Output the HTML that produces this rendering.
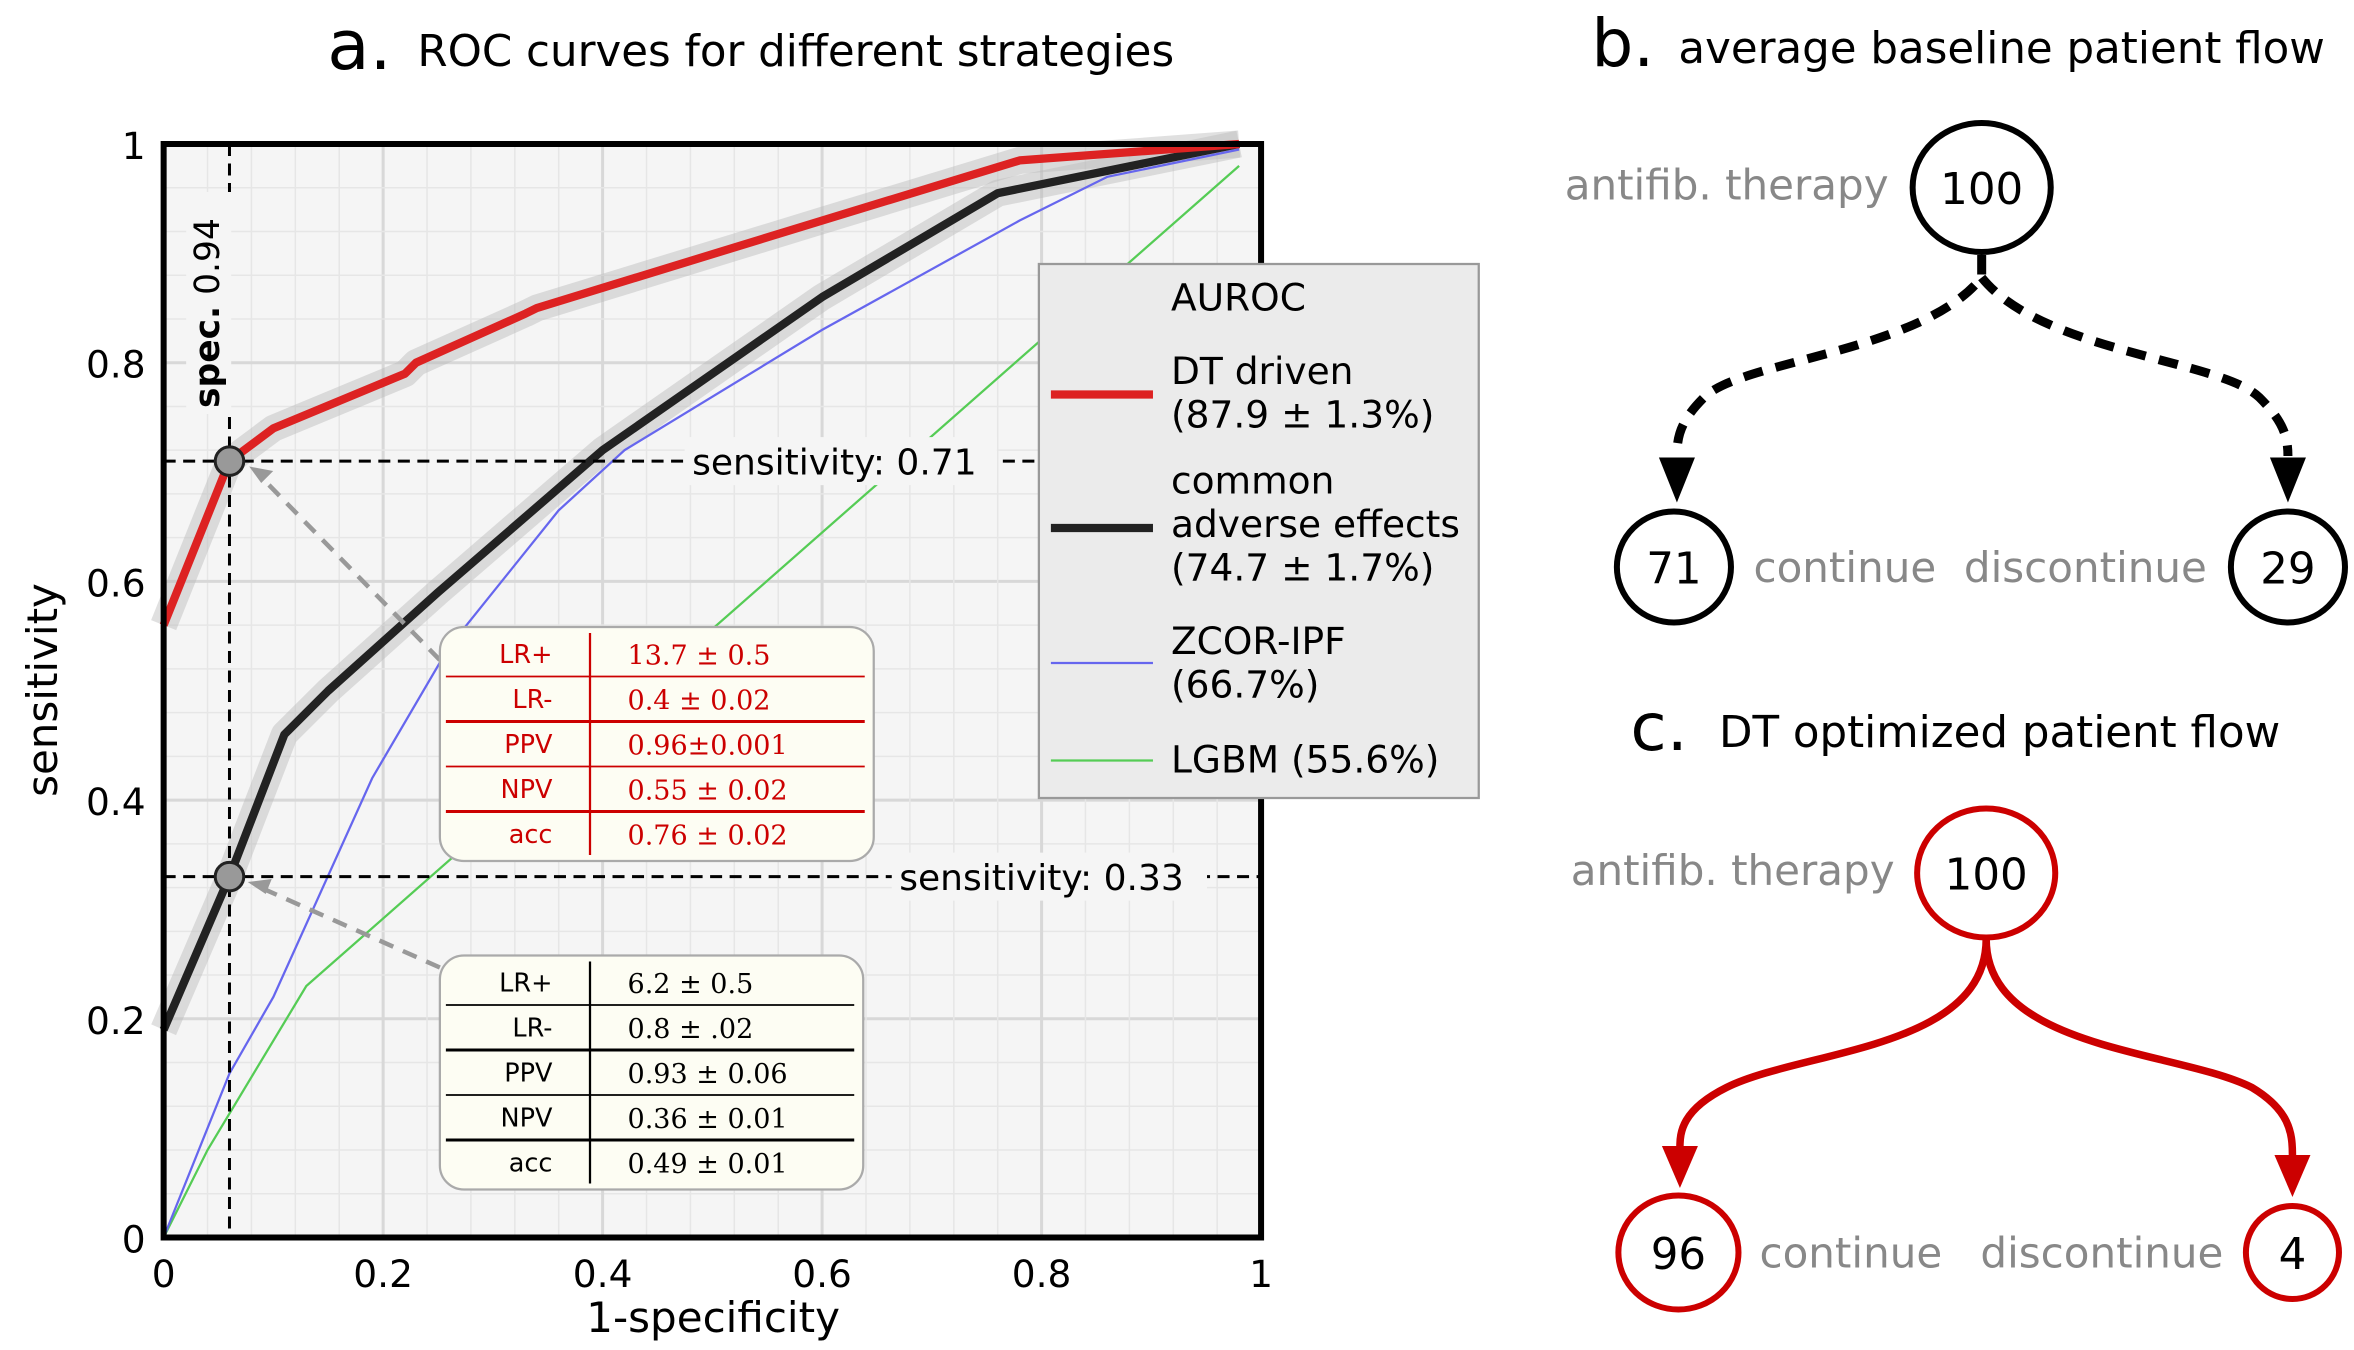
<!DOCTYPE html>
<html><head><meta charset="utf-8">
<style>
html,body{margin:0;padding:0;background:#fff;}
svg{display:block;}
text{font-family:"DejaVu Sans","Liberation Sans",sans-serif;}
.serif{font-family:"DejaVu Serif","Liberation Serif",serif;}
</style></head>
<body>
<svg id="fig" width="2354" height="1350" viewBox="0 0 1568 900" preserveAspectRatio="none" xmlns="http://www.w3.org/2000/svg">
<defs>
  <marker id="ahb" markerWidth="10" markerHeight="10" refX="5" refY="9" orient="auto" markerUnits="userSpaceOnUse" viewBox="0 0 10 10"><path d="M0,0 L10,0 L5,10z" fill="#000"/></marker>
</defs>
<g id="chart"></g>
<g id="panels">
  <!-- b -->
  <text x="1060" y="44" font-size="44">b.</text>
  <text x="1118" y="42" font-size="29">average baseline patient flow</text>
  <text x="1258" y="133" font-size="28" fill="#888" text-anchor="end">antifib. therapy</text>
  <ellipse cx="1320" cy="125" rx="46" ry="43" fill="none" stroke="#000" stroke-width="4"/>
  <text x="1320" y="136" font-size="29" text-anchor="middle">100</text>
  <path d="M1320,170 L1320,185 C1280,235 1160,240 1135,265 C1120,280 1117,290 1117,304" fill="none" stroke="#000" stroke-width="6" stroke-dasharray="13,9"/>
  <path d="M1105,305 L1129,305 L1117,335z" fill="#000"/>
  <path d="M1320,185 C1360,235 1480,240 1505,265 C1520,280 1524,290 1524,304" fill="none" stroke="#000" stroke-width="6" stroke-dasharray="13,9"/>
  <path d="M1512,305 L1536,305 L1524,335z" fill="#000"/>
  <ellipse cx="1115" cy="378" rx="38" ry="37" fill="none" stroke="#000" stroke-width="4"/>
  <text x="1115" y="389" font-size="29" text-anchor="middle">71</text>
  <ellipse cx="1524" cy="378" rx="38" ry="37" fill="none" stroke="#000" stroke-width="4"/>
  <text x="1524" y="389" font-size="29" text-anchor="middle">29</text>
  <text x="1168" y="388" font-size="28" fill="#888">continue</text>
  <text x="1470" y="388" font-size="28" fill="#888" text-anchor="end">discontinue</text>
  <!-- c -->
  <text x="1086" y="500" font-size="44">c.</text>
  <text x="1145" y="498" font-size="29">DT optimized patient flow</text>
  <text x="1262" y="590" font-size="28" fill="#888" text-anchor="end">antifib. therapy</text>
  <ellipse cx="1323" cy="582" rx="46" ry="43" fill="none" stroke="#c00" stroke-width="4"/>
  <text x="1323" y="593" font-size="29" text-anchor="middle">100</text>
  <path d="M1323,626 C1323,700 1200,700 1150,725 C1120,740 1119,755 1119,765" fill="none" stroke="#c00" stroke-width="5"/>
  <path d="M1107,764 L1131,764 L1119,792z" fill="#c00"/>
  <path d="M1323,626 C1323,700 1450,700 1500,725 C1525,740 1527,755 1527,770" fill="none" stroke="#c00" stroke-width="5"/>
  <path d="M1515,770 L1539,770 L1527,798z" fill="#c00"/>
  <ellipse cx="1118" cy="835" rx="40" ry="38" fill="none" stroke="#c00" stroke-width="4"/>
  <text x="1118" y="846" font-size="29" text-anchor="middle">96</text>
  <ellipse cx="1527" cy="835" rx="31" ry="31" fill="none" stroke="#c00" stroke-width="4"/>
  <text x="1527" y="846" font-size="29" text-anchor="middle">4</text>
  <text x="1172" y="845" font-size="28" fill="#888">continue</text>
  <text x="1481" y="845" font-size="28" fill="#888" text-anchor="end">discontinue</text>
</g>
</svg>
<script>
const dtX=[0,0.06,0.1,0.22,0.23,0.33,0.34,0.6,0.78,0.98];
const dtY=[0.56,0.71,0.74,0.79,0.80,0.845,0.85,0.93,0.985,1.0];
const caeX=[0,0.06,0.11,0.15,0.25,0.4,0.6,0.76,0.98];
const caeY=[0.19,0.33,0.46,0.5,0.59,0.72,0.86,0.955,1.0];
const zcX=[0,0.06,0.1,0.19,0.26,0.36,0.42,0.6,0.78,0.86,0.98];
const zcY=[0,0.15,0.22,0.42,0.54,0.665,0.72,0.83,0.93,0.97,0.995];
const lgX=[0,0.04,0.13,0.98];
const lgY=[0,0.08,0.23,0.98];
const xTicks=[0,0.2,0.4,0.6,0.8,1];
const xTickLabels=["0","0.2","0.4","0.6","0.8","1"];
const yTicks=[0,0.2,0.4,0.6,0.8,1];
const yTickLabels=["0","0.2","0.4","0.6","0.8","1"];
const opX=[0.06,0.06];
const opY=[0.71,0.33];

const NS="http://www.w3.org/2000/svg";
const L=109,R=840,T=96,B=825;
const sx=v=>L+v*(R-L), sy=v=>B-v*(B-T);
const g=document.getElementById('chart');
function el(tag,attrs,parent){const e=document.createElementNS(NS,tag);for(const k in attrs)e.setAttribute(k,attrs[k]);(parent||g).appendChild(e);return e;}
function txt(s,attrs,parent){const e=el('text',attrs,parent);e.textContent=s;return e;}

// title
let t=txt('a.',{x:218,y:46,'font-size':46});


t=txt('ROC curves for different strategies',{x:278,y:44,'font-size':29});



// background
let bg=el('rect',{x:L,y:T,width:R-L,height:B-T,fill:'#f5f5f5'});


// grid
for(let i=0;i<=25;i++){const v=i*0.04;
  let gl=el('line',{x1:sx(v),x2:sx(v),y1:T,y2:B,stroke:i%5==0?'#d8d8d8':'#e6e6e6','stroke-width':i%5==0?2:1});
  
  
  let gh=el('line',{y1:sy(v),y2:sy(v),x1:L,x2:R,stroke:i%5==0?'#d8d8d8':'#e6e6e6','stroke-width':i%5==0?2:1});
  
  
}
function pts(xs,ys){return xs.map((x,i)=>sx(x)+','+sy(ys[i])).join(' ');}
// bands
let b1=el('polyline',{points:pts(dtX,dtY),fill:'none',stroke:'#bbb','stroke-opacity':0.45,'stroke-width':18,'stroke-linejoin':'round'});


let b2=el('polyline',{points:pts(caeX,caeY),fill:'none',stroke:'#bbb','stroke-opacity':0.45,'stroke-width':18,'stroke-linejoin':'round'});


let s4=el('polyline',{points:pts(lgX,lgY),fill:'none',stroke:'#5c5','stroke-width':1.5});


let s3=el('polyline',{points:pts(zcX,zcY),fill:'none',stroke:'#66e','stroke-width':1.5});


let s2=el('polyline',{points:pts(caeX,caeY),fill:'none',stroke:'#222','stroke-width':5.5,'stroke-linejoin':'round'});


let s1=el('polyline',{points:pts(dtX,dtY),fill:'none',stroke:'#d22','stroke-width':5.5,'stroke-linejoin':'round'});



// reference dashed lines
let vl=el('line',{x1:sx(opX[0]),x2:sx(opX[0]),y1:T,y2:B,stroke:'#000','stroke-width':2,'stroke-dasharray':'8,5'});


let h1=el('line',{x1:L,x2:692,y1:sy(opY[0]),y2:sy(opY[0]),stroke:'#000','stroke-width':2,'stroke-dasharray':'8,5'});


let h2=el('line',{x1:L,x2:R,y1:sy(opY[1]),y2:sy(opY[1]),stroke:'#000','stroke-width':2,'stroke-dasharray':'8,5'});


el('rect',{x:456,y:sy(opY[0])-16,width:208,height:32,fill:'#f5f5f5'});
t=txt('sensitivity: 0.71',{x:461,y:sy(opY[0])+9,'font-size':24});


el('rect',{x:594,y:sy(opY[1])-16,width:210,height:32,fill:'#f5f5f5'});
t=txt('sensitivity: 0.33',{x:599,y:sy(opY[1])+9,'font-size':24});


el('rect',{x:124,y:128,width:30,height:148,fill:'#f5f5f5'});
t=txt('',{x:0,y:0,'font-size':23,transform:'translate(146,272) rotate(-90)'});
t.innerHTML='<tspan font-weight="bold">spec.</tspan> 0.94';



// gray arrows
let a1=el('path',{d:'M293,440 L172,316',stroke:'#999','stroke-width':3,'stroke-dasharray':'10,7',fill:'none'});


el('path',{d:'M166,311 L182,314 L174,322z',fill:'#999'});
let a2=el('path',{d:'M293,645 L172,591',stroke:'#999','stroke-width':3,'stroke-dasharray':'10,7',fill:'none'});


el('path',{d:'M165,588 L181,586 L177,596z',fill:'#999'});

// operating points
for(let i=0;i<opX.length;i++){
  let c=el('circle',{cx:sx(opX[i]),cy:sy(opY[i]),r:9.5,fill:'#999',stroke:'#222','stroke-width':2});
  
  
}

// frame
let fr=el('rect',{x:L,y:T,width:R-L,height:B-T,fill:'none',stroke:'#000','stroke-width':4});



// ticks
xTicks.forEach((v,i)=>{let tt=txt(xTickLabels[i],{x:sx(v),y:858,'font-size':25,'text-anchor':'middle'});
  
  });
yTicks.forEach((v,i)=>{let tt=txt(yTickLabels[i],{x:97,y:sy(v)+10,'font-size':25,'text-anchor':'end'});
  
  });
t=txt('1-specificity',{x:475,y:888,'font-size':28,'text-anchor':'middle'});


t=txt('sensitivity',{x:0,y:0,'font-size':28,'text-anchor':'middle',transform:'translate(38,460) rotate(-90)'});



// legend
let lg=el('g',{});


el('rect',{x:692,y:176,width:293,height:356,fill:'#ebebeb',stroke:'#999','stroke-width':1.5},lg);
txt('AUROC',{x:780,y:207,'font-size':25},lg);
const legItems=[
 {c:'#d22',w:5.5,y:263,lines:['DT driven','(87.9 ± 1.3%)'],ty:256,n:'legend-entry-dt-driven'},
 {c:'#222',w:5.5,y:352,lines:['common','adverse effects','(74.7 ± 1.7%)'],ty:329,n:'legend-entry-common-adverse-effects'},
 {c:'#66e',w:1.5,y:442,lines:['ZCOR-IPF','(66.7%)'],ty:436,n:'legend-entry-zcor-ipf'},
 {c:'#5c5',w:1.5,y:507,lines:['LGBM (55.6%)'],ty:515,n:'legend-entry-lgbm'}];
legItems.forEach(it=>{
  const gg=el('g',{},lg);
  
  
  el('line',{x1:700,x2:768,y1:it.y,y2:it.y,stroke:it.c,'stroke-width':it.w},gg);
  it.lines.forEach((s,j)=>txt(s,{x:780,y:it.ty+j*29,'font-size':25},gg));
});

// tables
function table(x,y,w,color,labels,vals,name){
  const tg=el('g',{});
  
  
  el('rect',{x:x,y:y,width:w,height:156,rx:16,fill:'#fdfdf3',stroke:'#aaa','stroke-width':1.5},tg);
  el('line',{x1:x+100,x2:x+100,y1:y+4,y2:y+152,stroke:color,'stroke-width':1.5},tg);
  for(let i=0;i<5;i++){
    const cy=y+18+i*30;
    txt(labels[i],{x:x+75,y:cy+6,'font-size':17,'text-anchor':'end',fill:color},tg);
    txt(vals[i],{x:x+125,y:cy+7,'font-size':18,fill:color,class:'serif'},tg);
    if(i<4) el('line',{x1:x+4,x2:x+w-6,y1:cy+15,y2:cy+15,stroke:color,'stroke-width':i%2==0?1.2:2},tg);
  }
}
table(293,418,289,'#c00',['LR+','LR-','PPV','NPV','acc'],['13.7 ± 0.5','0.4 ± 0.02','0.96±0.001','0.55 ± 0.02','0.76 ± 0.02'],'dt-metrics-table');
table(293,637,282,'#000',['LR+','LR-','PPV','NPV','acc'],['6.2 ± 0.5','0.8 ± .02','0.93 ± 0.06','0.36 ± 0.01','0.49 ± 0.01'],'cae-metrics-table');
</script>
</body></html>
